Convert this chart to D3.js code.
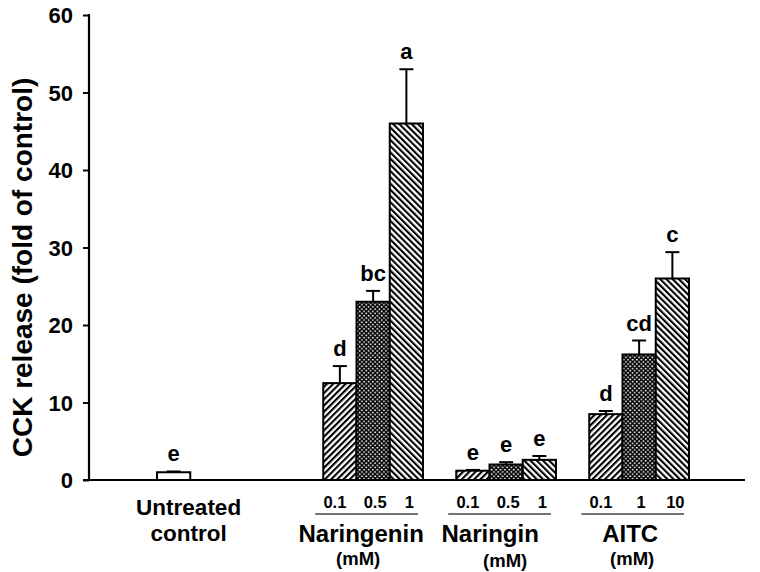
<!DOCTYPE html>
<html>
<head>
<meta charset="utf-8">
<script src="https://cdn.jsdelivr.net/npm/d3@7"></script>
<style>
  html, body { margin: 0; padding: 0; background: #fff; }
  svg text { font-family: "Liberation Sans", Arial, sans-serif; font-weight: bold; fill: #000; }
</style>
</head>
<body>
<svg id="chart" width="760" height="572"></svg>
<script>
// ---------- data ----------
const groupNames = ["Untreated control", "Naringenin", "Naringin", "AITC"];
const barGroup   = [0, 1, 1, 1, 2, 2, 2, 3, 3, 3];
const doseLabels = ["", "0.1", "0.5", "1", "0.1", "0.5", "1", "0.1", "1", "10"];
const means      = [1.0, 12.5, 23.0, 46.0, 1.2, 2.0, 2.6, 8.5, 16.2, 26.0];
const errors     = [0.1, 2.2, 1.4, 7.0, 0.1, 0.3, 0.5, 0.4, 1.8, 3.4];
const letters    = ["e", "d", "bc", "a", "e", "e", "e", "d", "cd", "c"];
const yTicks     = [0, 10, 20, 30, 40, 50, 60];
const unitLabel  = "(mM)";
const yTitle     = "CCK release (fold of control)";

// ---------- layout ----------
const svg = d3.select("#chart");
const axisX = 89, baseY = 480, topY = 15, axisEnd = 745;
const y = d3.scaleLinear().domain([0, 60]).range([baseY, topY]);

// slot index of each bar: control alone, then groups of three separated by one empty slot
const withinOf = i => i - barGroup.indexOf(barGroup[i]);
const slotOf = barGroup.map((g, i) => g === 0 ? 2 : 7 + (g - 1) * 4 + withinOf(i));
const x = d3.scaleBand().domain(d3.range(20)).range([90.5, 90.5 + 20 * 33.25]).padding(0);
const bw = x.bandwidth();

// ---------- patterns ----------
const defs = svg.append("defs");
function hatch(id, angle) {
  const p = defs.append("pattern").attr("id", id).attr("patternUnits", "userSpaceOnUse")
    .attr("width", 4.4).attr("height", 4.4).attr("patternTransform", `rotate(${angle})`);
  p.append("rect").attr("width", 4.4).attr("height", 4.4).attr("fill", "#fff");
  p.append("rect").attr("x", 0).attr("y", 0).attr("width", 2.1).attr("height", 4.4).attr("fill", "#000");
}
hatch("fwd", 45);
hatch("bwd", -45);
const p2 = defs.append("pattern").attr("id", "dots").attr("patternUnits", "userSpaceOnUse")
  .attr("width", 4.4).attr("height", 4.4);
p2.append("rect").attr("width", 4.4).attr("height", 4.4).attr("fill", "#000");
p2.append("circle").attr("cx", 1.1).attr("cy", 1.1).attr("r", 0.95).attr("fill", "#fff");
p2.append("circle").attr("cx", 3.3).attr("cy", 3.3).attr("r", 0.95).attr("fill", "#fff");

const fillOf = i => barGroup[i] === 0 ? "#fff" : ["url(#fwd)", "url(#dots)", "url(#bwd)"][withinOf(i)];

// ---------- bars ----------
const idx = d3.range(means.length);
svg.append("g").selectAll("rect").data(idx).join("rect")
  .attr("x", i => x(slotOf[i]))
  .attr("y", i => y(means[i]))
  .attr("width", bw)
  .attr("height", i => y(0) - y(means[i]))
  .attr("fill", i => fillOf(i))
  .attr("stroke", "#000").attr("stroke-width", 2);

// ---------- error bars ----------
const eg = svg.append("g").attr("stroke", "#000").attr("stroke-width", 2);
eg.selectAll("line.v").data(idx).join("line").attr("class", "v")
  .attr("x1", i => x(slotOf[i]) + bw / 2).attr("x2", i => x(slotOf[i]) + bw / 2)
  .attr("y1", i => y(means[i])).attr("y2", i => y(means[i] + errors[i]));
eg.selectAll("line.c").data(idx).join("line").attr("class", "c")
  .attr("x1", i => x(slotOf[i]) + bw / 2 - 7).attr("x2", i => x(slotOf[i]) + bw / 2 + 7)
  .attr("y1", i => y(means[i] + errors[i])).attr("y2", i => y(means[i] + errors[i]));

// ---------- significance letters ----------
svg.append("g").selectAll("text").data(idx).join("text")
  .attr("x", i => x(slotOf[i]) + bw / 2)
  .attr("y", i => y(means[i] + errors[i]) - 10)
  .attr("text-anchor", "middle").attr("font-size", 22)
  .text(i => letters[i]);

// ---------- axes ----------
const yAxis = d3.axisLeft(y).tickValues(yTicks).tickSize(6).tickPadding(10).tickFormat(d3.format("d"));
const ga = svg.append("g").attr("transform", `translate(${axisX},0)`).call(yAxis);
ga.select(".domain").remove();
ga.selectAll(".tick line").attr("stroke", "#000").attr("stroke-width", 2);
ga.selectAll(".tick text").attr("font-size", 22).attr("font-family", "Liberation Sans, Arial, sans-serif")
  .attr("font-weight", "bold").attr("fill", "#000").attr("dy", "0.36em");
svg.append("line").attr("x1", axisX).attr("x2", axisX).attr("y1", y(60) - 1).attr("y2", y(0))
  .attr("stroke", "#000").attr("stroke-width", 2.2);
svg.append("line").attr("x1", axisX - 6).attr("x2", axisEnd).attr("y1", y(0)).attr("y2", y(0))
  .attr("stroke", "#000").attr("stroke-width", 2.2);

// y title
svg.append("text")
  .attr("transform", `translate(32,${(y(0) + y(60)) / 2 + 20}) rotate(-90)`)
  .attr("text-anchor", "middle").attr("font-size", 28)
  .text(yTitle);

// ---------- bottom labels ----------
const bl = svg.append("g");
const doseShift = [-5, 2, 3];
bl.selectAll("text.dose").data(idx.filter(i => doseLabels[i] !== "")).join("text").attr("class", "dose")
  .attr("x", i => x(slotOf[i]) + bw / 2 + doseShift[withinOf(i)])
  .attr("y", 508).attr("text-anchor", "middle").attr("font-size", 16.5)
  .text(i => doseLabels[i]);

// control label
const ctrlIdx = barGroup.indexOf(0);
const ctrlCx = x(slotOf[ctrlIdx]) + bw / 2 + 15;
const ctrlWords = groupNames[0].split(" ");
bl.append("text").attr("x", ctrlCx).attr("y", 515).attr("text-anchor", "middle").attr("font-size", 22.5).text(ctrlWords[0]);
bl.append("text").attr("x", ctrlCx).attr("y", 541).attr("text-anchor", "middle").attr("font-size", 22.5).text(ctrlWords[1]);

// group underlines, names, units
const nameShift = [0, -12, -16, -9];
const unitShift = [0, -15, -1, -7];
[1, 2, 3].forEach(g => {
  const members = idx.filter(i => barGroup[i] === g);
  const x0 = x(slotOf[members[0]]);
  const x1 = x(slotOf[members[members.length - 1]]) + bw;
  const cx = (x0 + x1) / 2;
  bl.append("line").attr("x1", x0 - 8).attr("x2", x1 - 5).attr("y1", 514).attr("y2", 514)
    .attr("stroke", "#444").attr("stroke-width", 1.5);
  bl.append("text").attr("x", cx + nameShift[g]).attr("y", 542).attr("text-anchor", "middle")
    .attr("font-size", 24).text(groupNames[g]);
  bl.append("text").attr("x", cx + unitShift[g]).attr("y", g === 2 ? 567 : 565).attr("text-anchor", "middle")
    .attr("font-size", 18.5).text(unitLabel);
});
</script>
</body>
</html>
